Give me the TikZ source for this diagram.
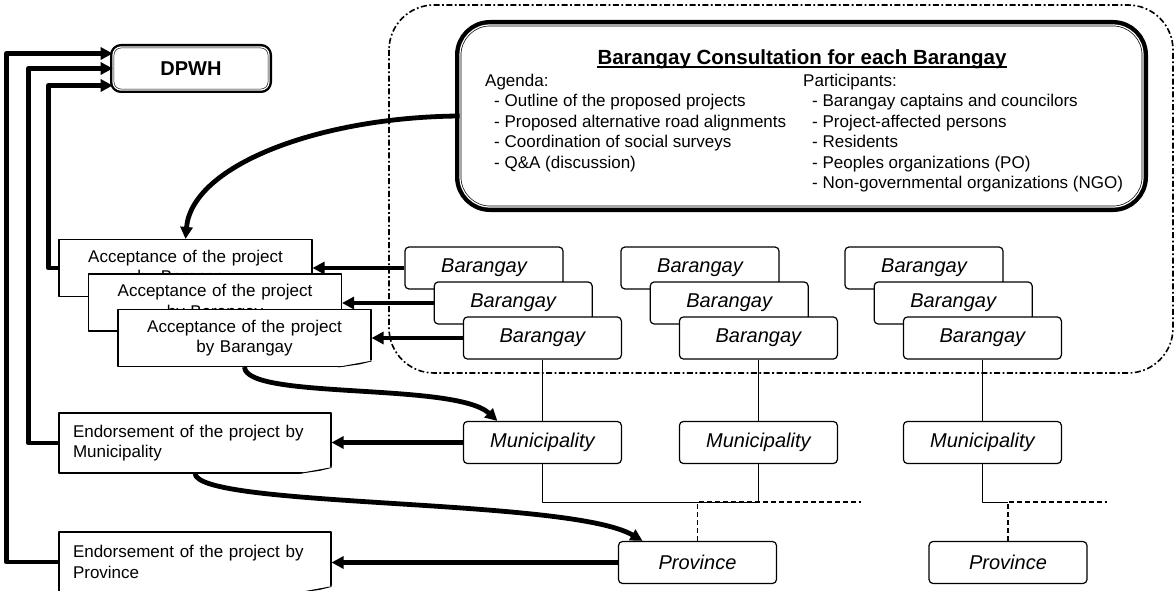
\documentclass[tikz,border=0pt]{standalone}
\usepackage{fontspec}
\setmainfont{Liberation Sans}
\usetikzlibrary{arrows.meta,calc}
\begin{document}
\begin{tikzpicture}[x=1pt,y=-1pt,line join=round,font=\fontsize{17}{20.4}\selectfont,
	flow/.style={line width=4.8pt,-{Triangle[length=12pt,width=12pt]}},
	link/.style={line width=1pt},
	dashlink/.style={line width=1.6pt,dash pattern=on 5pt off 3pt},
	zone/.style={line width=1.6pt,dash pattern=on 6pt off 2.5pt on 1.8pt off 2.5pt,rounded corners=45pt},
	brgy/.style={draw,fill=white,line width=1.2pt,rounded corners=4pt,minimum width=158pt,minimum height=42pt,inner sep=0pt,font=\fontsize{20}{24}\selectfont\itshape},
	accbox/.style={draw,fill=white,line width=1.1pt,minimum width=253pt,minimum height=57pt,text width=253pt,inner xsep=0pt,inner ysep=0pt,align=center},
	endbox/.style={draw,fill=white,line width=1.1pt,minimum height=60pt,text width=244pt,inner xsep=14pt,inner ysep=0pt,align=left},
	dblbox/.style={preaction={draw,line width=6pt},preaction={fill=white},draw,line width=.6pt,double=white,double distance=1.2pt,rounded corners=8pt},
	bigframe/.style={preaction={draw,line width=10pt},preaction={fill=white},draw,line width=.7pt,double=white,double distance=1.2pt,rounded corners=30pt}]
	\useasboundingbox (0,0) rectangle (1175,591);
	\draw[zone] (389,5) rectangle (1173,373);
	\node[bigframe,minimum width=683pt,minimum height=182pt] (consult) at (801.5,116) {};
	\node[inner sep=0pt,anchor=base,font=\bfseries\fontsize{20.5}{24}\selectfont] (ttl) at (802,65) {Barangay Consultation for each Barangay};
	\draw[line width=1.2pt] ([yshift=-2pt]ttl.base west) -- ([yshift=-2pt]ttl.base east);
	\node[inner sep=0pt,anchor=north west,align=left] (agenda) at (485,74) {Agenda:\\
		\hspace*{9pt}- Outline of the proposed projects\\
		\hspace*{9pt}- Proposed alternative road alignments\\
		\hspace*{9pt}- Coordination of social surveys\\
		\hspace*{9pt}- Q\&A (discussion)};
	\node[inner sep=0pt,anchor=north west,align=left] (partic) at (803,74) {Participants:\\
		\hspace*{9pt}- Barangay captains and councilors\\
		\hspace*{9pt}- Project-affected persons\\
		\hspace*{9pt}- Residents\\
		\hspace*{9pt}- Peoples organizations (PO)\\
		\hspace*{9pt}- Non-governmental organizations (NGO)};
	\node[dblbox,minimum width=156pt,minimum height=43pt,font=\bfseries\fontsize{20}{24}\selectfont] (dpwh) at (191,68.5) {DPWH};
	\foreach \c/\x in {1/484,2/700,3/924}{
		\foreach \r in {1,2,3}
			\node[brgy] (b\c\r) at ({\x+29.2*(\r-1)},{268+35*(\r-1)}) {Barangay};
		\node[brgy] (muni\c) at ({\x+58.4},442.5) {Municipality};
		\draw[link] (b\c3) -- (muni\c);
	}
	\node[brgy] (prov1) at (697.5,562.5) {Province};
	\node[brgy] (prov2) at (1008,562.5) {Province};
	\draw[link] (muni1.south) -- ++(0,38) coordinate (j1) -| (muni2.south);
	\draw[dashlink] (prov1.north) -- (prov1.north |- j1) -- ++(163,0);
	\draw[link] (muni3.south) -- ++(0,38) coordinate (j3) -- (prov2.north |- j3);
	\draw[dashlink] (prov2.north) -- (prov2.north |- j3) -- ++(99,0);
	\node[accbox] (acc1) at (185.5,268) {Acceptance of the project\\by Barangay};
	\node[accbox] (acc2) at (215,302.5) {Acceptance of the project\\by Barangay};
	\node[accbox] (acc3) at (244.5,338) {Acceptance of the project\\by Barangay};
	\node[endbox] (endm) at (195,443) {Endorsement of the project by\\Municipality};
	\node[endbox] (endp) at (195,562) {Endorsement of the project by\\Province};
	\foreach \d in {acc3,endm,endp}{
		\fill[white] ($(\d.south east)+(-34,1)$) -- ($(\d.south east)+(1,1)$) -- ($(\d.south east)+(1,-7)$) -- cycle;
		\filldraw[fill=gray!45,line width=.6pt] ($(\d.south east)+(-33,0)$) -- ($(\d.south east)+(0,-6)$) -- ($(\d.south east)+(-12,-3)$) -- cycle;
	}
	\draw[flow] (b11.west) -- (b11.west -| acc1.east);
	\draw[flow] (b12.west) -- (b12.west -| acc2.east);
	\draw[flow] (b13.west) -- (b13.west -| acc3.east);
	\draw[flow] (muni1.west) -- (muni1.west -| endm.east);
	\draw[flow] (prov1.west) -- (prov1.west -| endp.east);
	\draw[flow] (acc1.west) -- ++(-10,0) |- ([yshift=-17pt]dpwh.west);
	\draw[flow] (endm.west) -- ++(-30,0) |- (dpwh.west);
	\draw[flow] (endp.west) -- ++(-52,0) |- ([yshift=15pt]dpwh.west);
	\draw[flow] (consult.west) .. controls (320,117) and (192,165) .. (acc1.north);
	\draw[flow] (acc3.south) .. controls (246,400) and (455,382) .. ([xshift=-45pt]muni1.north);
	\draw[flow] (endm.south) .. controls (198,508) and (570,498) .. ([xshift=-55pt]prov1.north);
\end{tikzpicture}
\end{document}
